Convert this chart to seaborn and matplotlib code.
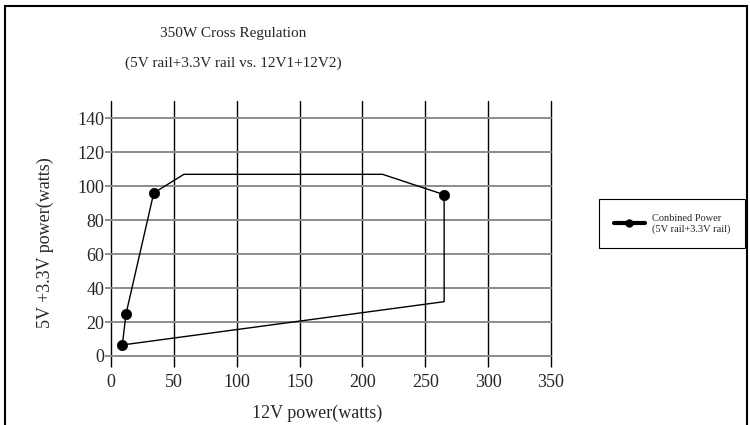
import matplotlib
matplotlib.use("Agg")
import matplotlib.pyplot as plt
import seaborn as sns
import pandas as pd
from matplotlib.lines import Line2D
from matplotlib.patches import Rectangle

# Boundary path of the cross-regulation envelope (12V watts, 5V+3.3V watts)
path_12v = [9, 12, 34, 58, 216, 265, 265, 9]
path_5v33 = [6.5, 25, 96, 107, 107, 95, 32, 6.5]
# Measured points (with markers)
pts_12v = [9, 12, 34, 265]
pts_5v33 = [6.5, 25, 96, 95]

x_ticks = [0, 50, 100, 150, 200, 250, 300, 350]
y_ticks = [0, 20, 40, 60, 80, 100, 120, 140]

title_lines = ["350W Cross Regulation", "(5V rail+3.3V rail vs. 12V1+12V2)"]
x_label = "12V power(watts)"
y_label = "5V +3.3V power(watts)"
legend_label = "Conbined Power\n(5V rail+3.3V rail)"

sns.set_style("white")
plt.rcParams['font.family'] = ['Liberation Serif', 'DejaVu Serif']

fig = plt.figure(figsize=(7.5, 4.25), dpi=100)
ax = fig.add_axes([111/750, 1-356/425, 440/750, 254.7/425])

path_df = pd.DataFrame({"x": path_12v, "y": path_5v33})
pts_df = pd.DataFrame({"x": pts_12v, "y": pts_5v33})

sns.lineplot(data=path_df, x="x", y="y", sort=False, estimator=None,
             color="black", linewidth=1.0, ax=ax, zorder=3)
sns.scatterplot(data=pts_df, x="x", y="y", color="black", s=55,
                edgecolor="black", linewidth=0.5, ax=ax, zorder=4)

ax.set_xlim(0, 350)
ax.set_ylim(0, 150)
ax.set_xticks(x_ticks)
ax.set_yticks(y_ticks)
ax.set_xlabel("")
ax.set_ylabel("")
for s in ax.spines.values():
    s.set_visible(False)

ax.xaxis.grid(True, color="black", linewidth=1.0)
ax.yaxis.grid(True, color="#8c8c8c", linewidth=1.4)
for gl in ax.get_xgridlines() + ax.get_ygridlines():
    gl.set_clip_on(False)
ax.tick_params(axis="x", length=8, width=1.0, color="black", pad=5,
               labelsize=13, bottom=True, direction="out")
ax.tick_params(axis="y", length=4, width=1.4, color="#8c8c8c", pad=1,
               labelsize=13, left=True, direction="out")
ax.set_axisbelow(True)

fig.text(233/750, 1-33/425, title_lines[0], ha="center", va="center", fontsize=11)
fig.text(233/750, 1-63/425, title_lines[1], ha="center", va="center", fontsize=11)
fig.text(317/750, 1-413/425, x_label, ha="center", va="center", fontsize=13)
fig.text(45/750, 1-243/425, y_label, ha="center", va="center", rotation=90, fontsize=13)

handle = Line2D([], [], color="black", linewidth=3, marker="o", markersize=5)
leg = fig.legend([handle], [legend_label], loc="upper left",
                 bbox_to_anchor=(599/750, 1-199/425), fontsize=7.5,
                 fancybox=False, edgecolor="black", framealpha=1,
                 handlelength=3, borderpad=1.4, handletextpad=0.7,
                 borderaxespad=0)
leg.get_frame().set_linewidth(0.8)

fig.patches.append(Rectangle((5/750, -0.05), 742/750, 1.05-6/425,
                             transform=fig.transFigure, fill=False,
                             edgecolor="black", linewidth=1.5))

fig.savefig("out.png", dpi=100)
